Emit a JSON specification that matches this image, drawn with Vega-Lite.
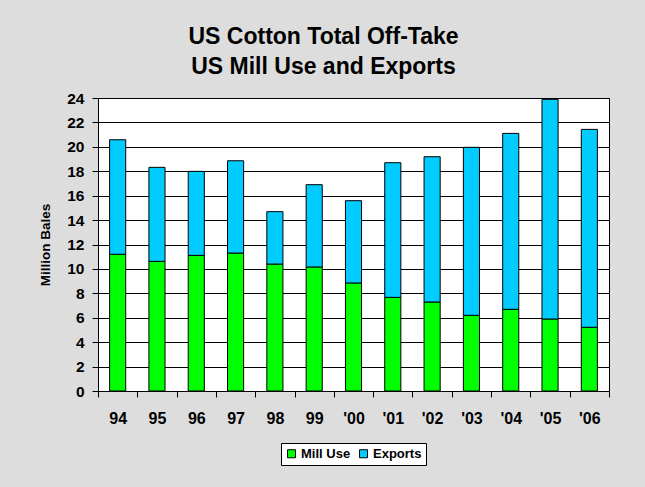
{
  "$schema": "https://vega.github.io/schema/vega-lite/v6.json",
  "width": 511,
  "height": 293,
  "autosize": {"type": "none"},
  "padding": {"left": 98, "top": 98, "right": 36, "bottom": 96},
  "background": "#dddddd",
  "title": {
    "text": ["US Cotton Total Off-Take", "US Mill Use and Exports"],
    "font": "Liberation Sans",
    "fontSize": 23,
    "fontWeight": "bold",
    "color": "#000000",
    "anchor": "middle",
    "dx": -30,
    "offset": 12,
    "lineHeight": 30
  },
  "data": {
    "values": [
      {"year": "94", "series": "Mill Use", "value": 11.2, "ord": 0},
      {"year": "94", "series": "Exports", "value": 9.38, "ord": 1},
      {"year": "95", "series": "Mill Use", "value": 10.62, "ord": 0},
      {"year": "95", "series": "Exports", "value": 7.7, "ord": 1},
      {"year": "96", "series": "Mill Use", "value": 11.11, "ord": 0},
      {"year": "96", "series": "Exports", "value": 6.88, "ord": 1},
      {"year": "97", "series": "Mill Use", "value": 11.3, "ord": 0},
      {"year": "97", "series": "Exports", "value": 7.56, "ord": 1},
      {"year": "98", "series": "Mill Use", "value": 10.4, "ord": 0},
      {"year": "98", "series": "Exports", "value": 4.29, "ord": 1},
      {"year": "99", "series": "Mill Use", "value": 10.16, "ord": 0},
      {"year": "99", "series": "Exports", "value": 6.74, "ord": 1},
      {"year": "'00", "series": "Mill Use", "value": 8.85, "ord": 0},
      {"year": "'00", "series": "Exports", "value": 6.74, "ord": 1},
      {"year": "'01", "series": "Mill Use", "value": 7.67, "ord": 0},
      {"year": "'01", "series": "Exports", "value": 11.03, "ord": 1},
      {"year": "'02", "series": "Mill Use", "value": 7.29, "ord": 0},
      {"year": "'02", "series": "Exports", "value": 11.9, "ord": 1},
      {"year": "'03", "series": "Mill Use", "value": 6.2, "ord": 0},
      {"year": "'03", "series": "Exports", "value": 13.76, "ord": 1},
      {"year": "'04", "series": "Mill Use", "value": 6.69, "ord": 0},
      {"year": "'04", "series": "Exports", "value": 14.41, "ord": 1},
      {"year": "'05", "series": "Mill Use", "value": 5.9, "ord": 0},
      {"year": "'05", "series": "Exports", "value": 17.99, "ord": 1},
      {"year": "'06", "series": "Mill Use", "value": 5.22, "ord": 0},
      {"year": "'06", "series": "Exports", "value": 16.21, "ord": 1}
    ]
  },
  "mark": {"type": "bar", "stroke": "#000000", "strokeWidth": 1, "width": {"band": 0.41}},
  "encoding": {
    "x": {
      "field": "year",
      "type": "nominal",
      "sort": null,
      "scale": {"paddingInner": 0, "paddingOuter": 0},
      "axis": {
        "title": null,
        "labelAngle": 0,
        "tickBand": "extent",
        "tickSize": 6,
        "tickColor": "#000000",
        "domainColor": "#000000",
        "labelFont": "Liberation Sans",
        "labelFontSize": 16,
        "labelFontWeight": "bold",
        "labelColor": "#000000",
        "labelPadding": 13
      }
    },
    "y": {
      "field": "value",
      "type": "quantitative",
      "stack": "zero",
      "scale": {"domain": [0, 24], "nice": false},
      "axis": {
        "title": "Million Bales",
        "titleFont": "Liberation Sans",
        "titleFontSize": 13.5,
        "titleFontWeight": "bold",
        "titleColor": "#000000",
        "titlePadding": 14,
        "values": [0, 2, 4, 6, 8, 10, 12, 14, 16, 18, 20, 22, 24],
        "grid": true,
        "gridColor": "#000000",
        "gridOpacity": 1,
        "tickColor": "#000000",
        "tickSize": 6,
        "domainColor": "#000000",
        "labelFont": "Liberation Sans",
        "labelFontSize": 15.5,
        "labelFontWeight": "bold",
        "labelColor": "#000000",
        "labelPadding": 8
      }
    },
    "color": {
      "field": "series",
      "type": "nominal",
      "scale": {"domain": ["Mill Use", "Exports"], "range": ["#00ff00", "#00ccff"]},
      "legend": {
        "title": null,
        "orient": "none",
        "direction": "horizontal",
        "legendX": 183,
        "legendY": 345,
        "fillColor": "#ffffff",
        "strokeColor": "#000000",
        "padding": 4,
        "symbolType": "square",
        "symbolSize": 64,
        "symbolStrokeColor": "#000000",
        "symbolStrokeWidth": 1,
        "symbolOpacity": 1,
        "labelFont": "Liberation Sans",
        "labelFontSize": 13,
        "labelFontWeight": "bold",
        "labelColor": "#000000",
        "columnPadding": 6,
        "labelOffset": 3
      }
    },
    "order": {"field": "ord", "type": "quantitative"}
  },
  "config": {
    "view": {"stroke": "#000000", "fill": "#ffffff", "strokeWidth": 1}
  }
}
